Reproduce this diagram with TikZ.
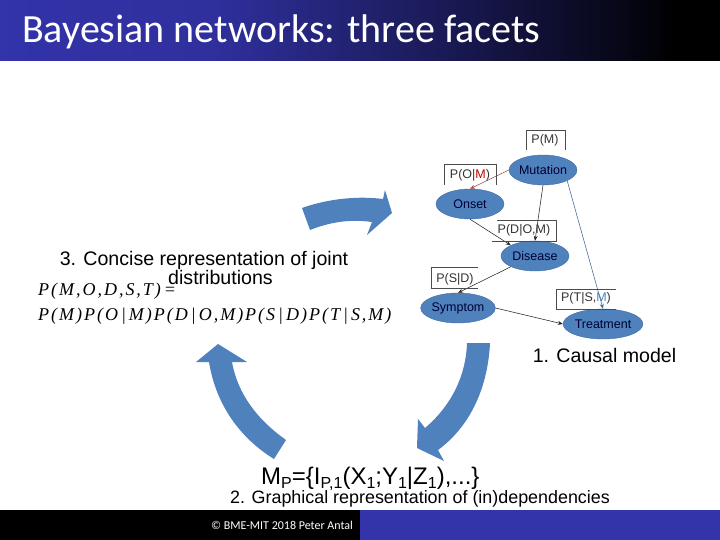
\documentclass[tikz,border=0pt]{standalone}
\usepackage{fontspec}
\setmainfont{Liberation Sans}
\newfontfamily\titlefont{Carlito}
\newfontfamily\mathserif[LetterSpace=11]{Liberation Serif}
\usetikzlibrary{arrows.meta,shapes.geometric}
\definecolor{arrowblue}{HTML}{4F81BD}
\definecolor{barblue}{HTML}{3333AA}
\pgfdeclarehorizontalshading{headershade}{100bp}{color(0bp)=(barblue); color(25bp)=(barblue); color(40bp)=(barblue!92!black); color(56bp)=(barblue!50!black); color(68bp)=(barblue!14!black); color(72bp)=(black); color(100bp)=(black)}
\tikzset{
  bn/.style={ellipse,fill=arrowblue,draw=arrowblue!85!black,line width=.4pt,minimum width=68pt,minimum height=30pt,inner sep=0pt,text=black!80!blue,font=\fontsize{12.5}{14}\selectfont},
  edge/.style={-{Stealth[length=5pt,width=4pt]},line width=.55pt,draw=black!85},
  cpt/.style={font=\fontsize{12.5}{14}\selectfont,text=black!80,anchor=center,inner sep=0pt},
  frame/.style={line width=.7pt,draw=black!70},
  bigarrow/.style={fill=arrowblue,draw=none},
  label/.style={font=\fontsize{19.6}{20}\selectfont,text=black,inner sep=0pt,anchor=base},
  formula/.style={font=\mathserif\itshape\fontsize{18}{18}\selectfont,inner sep=0pt,anchor=base west}
}
\newcommand{\subtxt}[1]{\raisebox{-4pt}{\fontsize{16}{16}\selectfont #1}}
\begin{document}
\begin{tikzpicture}[x=1pt,y=-1pt]
\useasboundingbox (0,0) rectangle (720,540);
% bars
\shade[shading=headershade] (0,0) rectangle (720,61);
\fill[black] (0,510) rectangle (360,540);
\fill[barblue] (360,510) rectangle (720,540);
\node[anchor=base west,text=white,inner sep=0pt,font=\titlefont\fontsize{40}{40}\selectfont] (title) at (22,43) {Bayesian networks: three facets};
\node[anchor=base,text=white,inner sep=0pt,font=\titlefont\fontsize{12}{12}\selectfont] (foot) at (282,529) {© BME-MIT 2018 Peter Antal};
% big arrows
\fill[bigarrow] (302,208) .. controls (330,198) and (360,196) .. (383,199) -- (385,190) -- (392,213) -- (367,235) -- (372,222) .. controls (350,219) and (330,222) .. (310,230) -- cycle;
\fill[bigarrow] (467,343) .. controls (466,375) and (452,405) .. (425,428) -- (418,419) -- (417,448) -- (444,461) -- (438,450) .. controls (472,425) and (488,385) .. (490,343) -- cycle;
\fill[bigarrow] (218,344) -- (247,362) -- (232,362) .. controls (238,395) and (258,420) .. (286,440) -- (274,459) .. controls (240,438) and (216,405) .. (209,362) -- (196,362) -- cycle;
% network
\node[bn] (mut) at (543,170) {Mutation};
\node[bn] (ons) at (470,204) {Onset};
\node[bn] (dis) at (535,256) {Disease};
\node[bn] (sym) at (458,308) {Symptom};
\node[bn] (trt) at (603,324) {Treatment};
\draw[edge,draw=red!45!black!70] (mut.west) -- (ons.north);
\draw[edge] (mut.south) -- (dis.north);
\draw[edge] (ons.south) -- (dis.north west);
\draw[edge] (dis.south west) -- (sym.north);
\draw[edge] (sym.east) -- (trt.west);
\draw[edge,draw=arrowblue!80!black] (mut.south east) -- (trt.north);
% CPT labels
\node[cpt] (pm) at (545,140) {P(M)};
\draw[frame] (526.5,150) -- (526.5,130) -- (565,130) -- (565,150);
\node[cpt] (pom) at (470,175) {P(O|\textcolor{red!75!black}{M})};
\draw[frame] (444.5,185) -- (444.5,164.5) -- (496.5,164.5) -- (496.5,185);
\node[cpt] (pdom) at (524,230) {P(D|O,M)};
\draw[frame] (492,241) -- (556.5,241) -- (556.5,220) -- (497,220);
\node[cpt] (psd) at (455,279) {P(S|D)};
\draw[frame] (478,267) -- (431,267) -- (431,288) -- (478,288);
\node[cpt] (ptsm) at (586,298) {P(T|S,\textcolor{arrowblue}{M})};
\draw[frame] (616,289) -- (556,289) -- (556,309.5) -- (616,309.5);
% texts
\node[label] (l3a) at (204,265) {3. Concise representation of joint};
\node[label] (l3b) at (220.5,284) {distributions};
\node[label] (l1) at (604.5,362.5) {1. Causal model};
\node[anchor=base west,inner sep=0pt,font=\fontsize{24}{24}\selectfont] (mp) at (261,484) {M\subtxt{P}=\{I\subtxt{P,1}(X\subtxt{1};Y\subtxt{1}|Z\subtxt{1}),...\}};
\node[anchor=base,inner sep=0pt,font=\fontsize{17.9}{18}\selectfont] (l2) at (420,503) {2. Graphical representation of (in)dependencies};
\node[formula] (f1) at (38,295) {P(M,O,D,S,T)\,=};
\node[formula] (f2) at (38,320) {P(M)P(O\,|\,M)P(D\,|\,O,M)P(S\,|\,D)P(T\,|\,S,M)};
\end{tikzpicture}
\end{document}
